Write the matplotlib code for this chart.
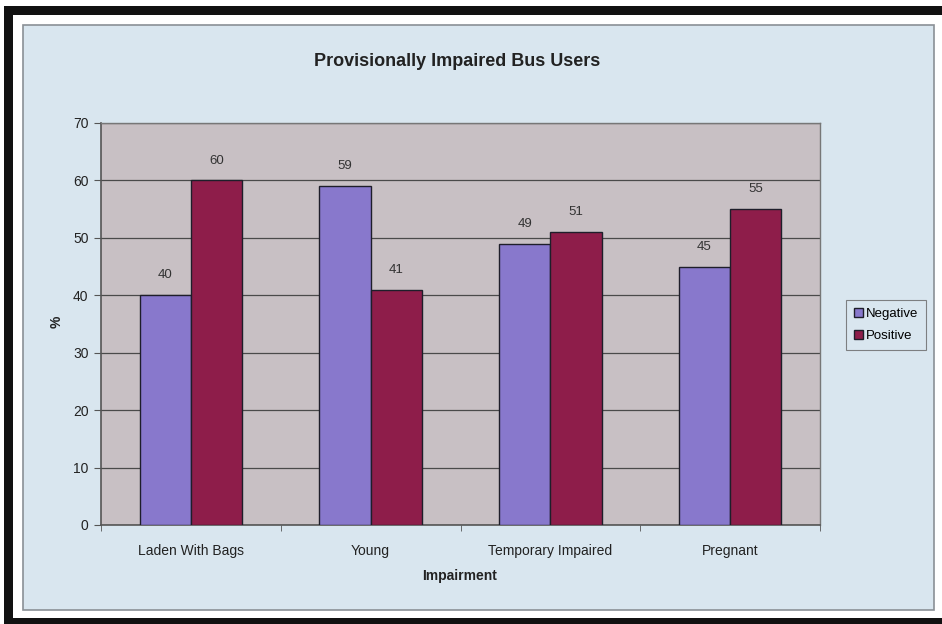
import matplotlib.pyplot as plt
from matplotlib.patches import Rectangle
import numpy as np

plt.rcParams['font.family'] = ['Liberation Sans', 'DejaVu Sans']

categories = ['Laden With Bags', 'Young', 'Temporary Impaired', 'Pregnant']
negative = [40, 59, 49, 45]
positive = [60, 41, 51, 55]

W, H = 942, 624
fig = plt.figure(figsize=(W / 100, H / 100), dpi=100)
fig.patch.set_facecolor('white')


def box(x0, y0, x1, y1, **kw):
    # rectangle given in pixel coords measured from the top-left corner
    r = Rectangle((x0 / W, 1 - y1 / H), (x1 - x0) / W, (y1 - y0) / H,
                  transform=fig.transFigure, **kw)
    fig.add_artist(r)
    return r


# page frame and chart area
box(4, 6, 942, 15, facecolor='#111111', edgecolor='none', zorder=0)
box(4, 6, 13, 624, facecolor='#111111', edgecolor='none', zorder=0)
box(4, 618, 942, 624, facecolor='#111111', edgecolor='none', zorder=0)
box(23, 25, 934, 610, facecolor='#d9e6ef', edgecolor='#8a9096', linewidth=1.2, zorder=0)

ax = fig.add_axes([101 / W, 1 - 525 / H, (820 - 101) / W, (525 - 123) / H])
ax.set_facecolor('#c8c0c4')

x = np.arange(len(categories))
width = 1 / 3.5
b1 = ax.bar(x - width / 2, negative, width, color='#8878cc', edgecolor='#1e1e2a',
            linewidth=1.0, label='Negative', zorder=3)
b2 = ax.bar(x + width / 2, positive, width, color='#8e1d4a', edgecolor='#1e1e2a',
            linewidth=1.0, label='Positive', zorder=3)

for bars, vals in ((b1, negative), (b2, positive)):
    for rect, v in zip(bars, vals):
        ax.annotate(str(v), (rect.get_x() + rect.get_width() / 2, v),
                    xytext=(0, 10), textcoords='offset points',
                    ha='center', va='bottom', fontsize=9.5, color='#333333')

ax.set_xlim(-0.5, len(categories) - 0.5)
ax.set_ylim(0, 70)
ax.set_yticks(range(0, 71, 10))
ax.yaxis.grid(True, color='#4a4a4a', linewidth=0.9, zorder=1)
ax.set_axisbelow(True)

ax.set_xticks(x)
ax.set_xticklabels(categories, fontsize=10, color='#222222')
ax.set_xticks(np.arange(-0.5, len(categories), 1), minor=True)
ax.tick_params(axis='x', which='major', length=0, pad=14)
ax.tick_params(axis='x', which='minor', length=4, color='#555555', direction='out')
ax.tick_params(axis='y', labelsize=10, labelcolor='#222222', length=5,
               color='#555555', pad=4)

for side in ('left', 'bottom'):
    ax.spines[side].set_color('#555555')
    ax.spines[side].set_linewidth(1.2)
for side in ('right', 'top'):
    ax.spines[side].set_color('#777777')
    ax.spines[side].set_linewidth(1.0)

fig.text(457 / W, 1 - 62 / H, 'Provisionally Impaired Bus Users', ha='center',
         va='center', fontsize=13, fontweight='bold', color='#222222')
fig.text(57 / W, 1 - 322 / H, '%', ha='center', va='center', rotation=90,
         fontsize=10, fontweight='bold', color='#222222')
fig.text(460 / W, 1 - 576 / H, 'Impairment', ha='center', va='center',
         fontsize=10, fontweight='bold', color='#222222')

leg = ax.legend(loc='center left', bbox_to_anchor=(839 / W, 1 - 325 / H),
                bbox_transform=fig.transFigure, fontsize=9.5, frameon=True,
                fancybox=False, handlelength=0.7, handleheight=0.7,
                handletextpad=0.2, labelspacing=0.7, borderpad=0.6)
leg.get_frame().set_edgecolor('#666666')
leg.get_frame().set_facecolor('#d9e6ef')
leg.get_frame().set_linewidth(0.8)

fig.savefig('out.png', dpi=100)
